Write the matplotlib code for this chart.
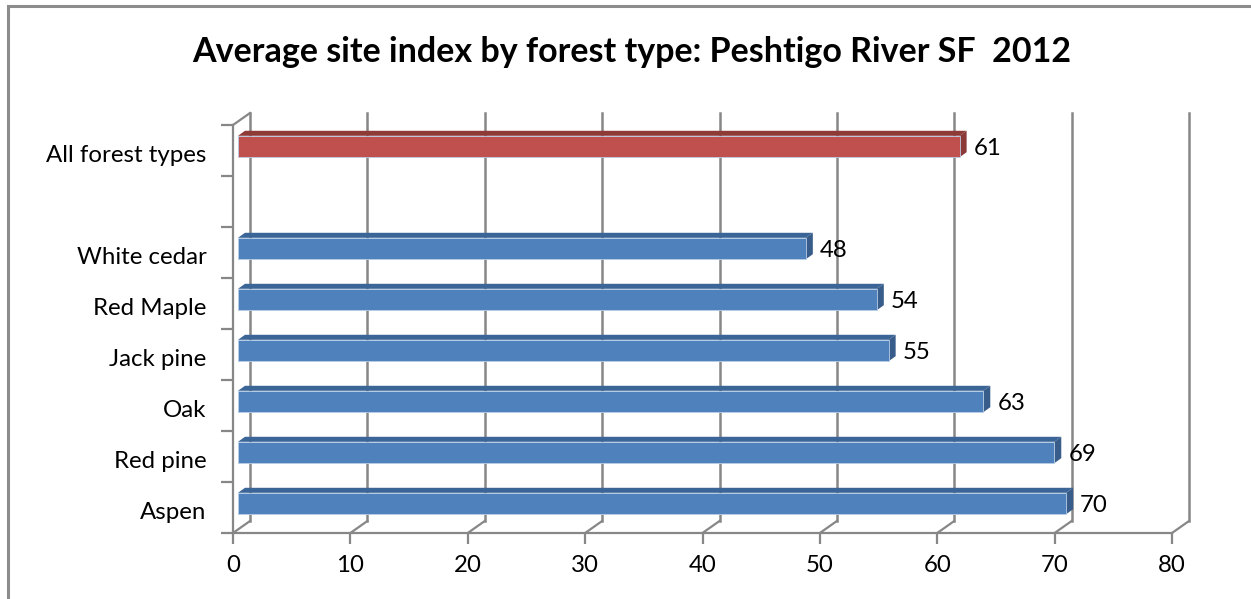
import numpy as np
import matplotlib.pyplot as plt
from matplotlib.patches import Rectangle, Polygon
from matplotlib.lines import Line2D
from matplotlib.transforms import offset_copy

# ---------------------------------------------------------------
# data (bottom to top, "" is the empty gap row)
# ---------------------------------------------------------------
categories = ["Aspen", "Red pine", "Oak", "Jack pine", "Red Maple", "White cedar", "", "All forest types"]
site_index = [70, 69, 63, 55, 54, 48, np.nan, 61]
bar_kind = ["type", "type", "type", "type", "type", "type", "", "all"]
x_ticks = [0, 10, 20, 30, 40, 50, 60, 70, 80]

title = "Average site index by forest type: Peshtigo River SF  2012"

# colours for front / top / side faces
face_cols = {
    "type": ("#4F81BD", "#3B6596", "#385D8A"),
    "all": ("#C0504D", "#8E3A37", "#8B3A38"),
}
grid_col = "#878787"

W, H = 1251, 599
plt.rcParams['font.family'] = ['Lato', 'DejaVu Sans']
lab_size = 17.3

fig = plt.figure(figsize=(W / 100, H / 100), dpi=100)

def px_box(left, top, right, bottom):
    return [left / W, 1 - bottom / H, (right - left) / W, (bottom - top) / H]

# front plane of the 3d box
ax = fig.add_axes(px_box(233, 125, 1172, 533))
n = len(categories)
ax.set_xlim(0, 80)
ax.set_ylim(-0.5, n - 0.5)
for s in ["top", "right"]:
    ax.spines[s].set_visible(False)
for s in ["left", "bottom"]:
    ax.spines[s].set_color(grid_col)
    ax.spines[s].set_linewidth(1.6)
ax.set_facecolor("none")

ax.set_xticks(x_ticks)
ax.set_xticklabels([str(t) for t in x_ticks])
ax.tick_params(axis="x", length=8, width=1.6, color=grid_col, pad=8, labelsize=lab_size)

ax.set_yticks(np.arange(n) - 0.05)
ax.set_yticklabels(categories)
ax.set_yticks(np.arange(n + 1) - 0.5, minor=True)
ax.tick_params(axis="y", which="major", length=0, pad=19, labelsize=lab_size)
ax.tick_params(axis="y", which="minor", length=9, width=1.6, color=grid_col)

# back wall gridlines + floor diagonals
back = offset_copy(ax.transData, fig=fig, x=17, y=12, units="dots")
for t in x_ticks:
    ax.plot([t, t], [-0.5, n - 0.5], color=grid_col, lw=1.8, transform=back, clip_on=False)
    p0 = ax.transData.transform((t, -0.5))
    p1 = back.transform((t, -0.5))
    fig.add_artist(Line2D([p0[0] / W, p1[0] / W], [p0[1] / H, p1[1] / H],
                          color=grid_col, lw=1.6, transform=fig.transFigure))
# left wall top edge
p0 = ax.transData.transform((0, n - 0.5))
p1 = back.transform((0, n - 0.5))
fig.add_artist(Line2D([p0[0] / W, p1[0] / W], [p0[1] / H, p1[1] / H],
                      color=grid_col, lw=1.6, transform=fig.transFigure))

# bars live a bit deeper in the box
bx = fig.add_axes(px_box(238, 121, 238 + 80 * 11.83, 529))
bx.set_xlim(0, 80)
bx.set_ylim(-0.5, n - 0.5)
bx.axis("off")
bx.set_facecolor("none")

bh = 0.42
dx = 7 / 11.83
dy = 5 * n / 408.0
for i, (v, k) in enumerate(zip(site_index, bar_kind)):
    if np.isnan(v):
        continue
    front, top, side = face_cols[k]
    y0, y1 = i - bh / 2, i + bh / 2
    bx.add_patch(Polygon([(0, y1), (dx, y1 + dy), (v + dx, y1 + dy), (v, y1)],
                         closed=True, facecolor=top, edgecolor="none"))
    bx.add_patch(Polygon([(v, y0), (v + dx, y0 + dy), (v + dx, y1 + dy), (v, y1)],
                         closed=True, facecolor=side, edgecolor="none"))
    bx.add_patch(Rectangle((0, y0), v, bh, facecolor=front,
                           edgecolor="#B9CDE5", lw=0.6))
    bx.annotate(f"{v:g}", (v, i), xytext=(14, -2), textcoords="offset pixels",
                ha="left", va="center", fontsize=lab_size)

fig.text(632 / W, 1 - 52 / H, title, ha="center", va="center",
         fontsize=24.5, fontweight="bold")

# chart area border (only left and top are inside the picture)
fig.add_artist(Rectangle((8 / W, -0.1), 1.2, 1 - 6 / H + 0.1, transform=fig.transFigure,
                         facecolor="none", edgecolor="#8C8C8C", lw=2.2))

fig.savefig("out.png", dpi=100)
